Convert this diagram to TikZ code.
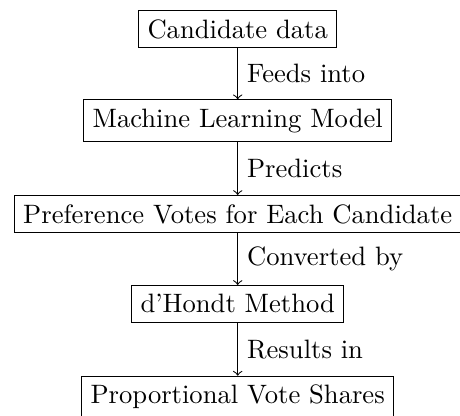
\documentclass[tikz,border=0pt]{standalone}
\begin{document}
\begin{tikzpicture}[
  box/.style={draw, rectangle, anchor=north},
  flow/.style={->},
  lab/.style={right}
]
\useasboundingbox (-89.36pt,0pt) rectangle (83.57pt,-156.02pt);
\node[box] (cand) at (0,-3.76pt) {Candidate data};
\node[box] (ml) at (0,-37.33pt) {Machine Learning Model};
\node[box] (pref) at (0,-73.31pt) {Preference Votes for Each Candidate};
\node[box] (dh) at (0,-107.14pt) {d'Hondt Method};
\node[box] (prop) at (0,-141.24pt) {Proportional Vote Shares};
\draw[flow] (cand) -- node[lab] {Feeds into} (ml);
\draw[flow] (ml) -- node[lab] {Predicts} (pref);
\draw[flow] (pref) -- node[lab] {Converted by} (dh);
\draw[flow] (dh) -- node[lab] {Results in} (prop);
\end{tikzpicture}
\end{document}
